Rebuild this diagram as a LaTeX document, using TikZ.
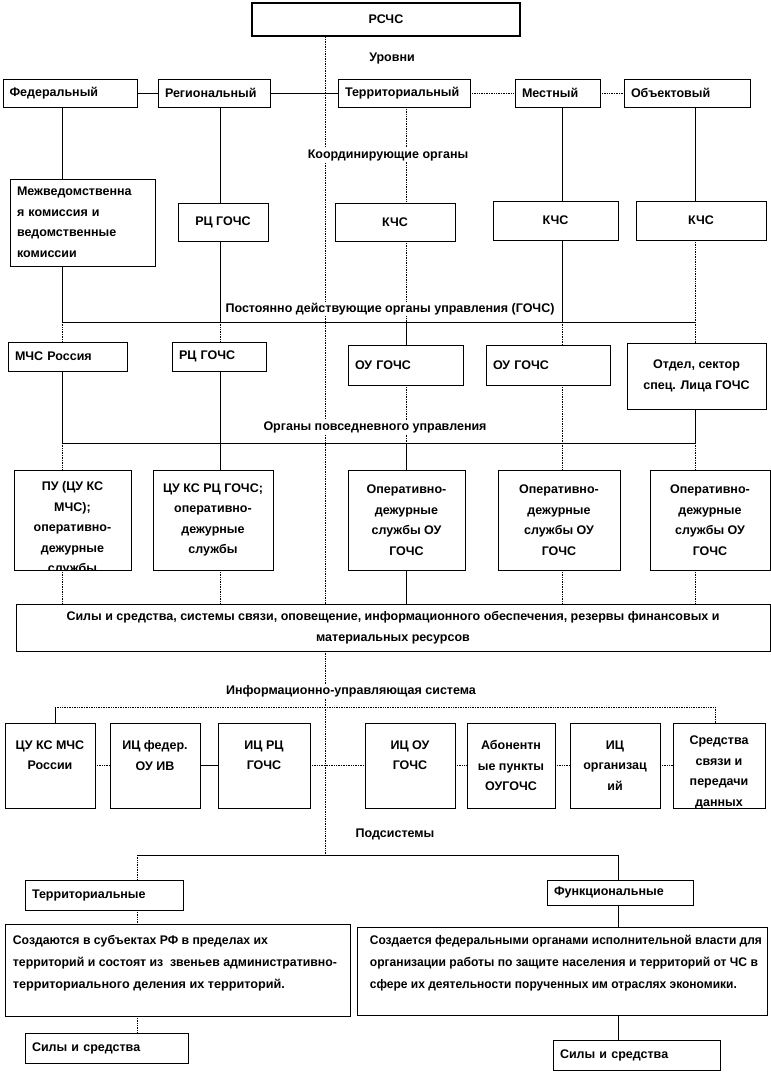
\documentclass[tikz,border=0pt]{standalone}
\usepackage{fontspec}
\usepackage{graphicx}
\setmainfont{Liberation Sans}
\usetikzlibrary{calc}
% box macro: [node options]{name}{x1}{y1}{x2}{y2}{text}
\newcommand\mybox[7][]{%
  \node[box,minimum width={(#5-#3)*1pt},minimum height={(#6-#4)*1pt},#1] (#2) at ({(#3+#5)/2},{(#4+#6)/2}) {#7};}
\newcommand\fitline[2]{\resizebox{#1pt}{\height}{#2}}
\begin{document}
\begin{tikzpicture}[x=1pt,y=-1pt,
  every node/.style={font=\fontsize{12.5}{20.5}\selectfont\bfseries},
  box/.style={draw, fill=white, inner sep=0pt, line width=0.6pt, align=center},
  lbl/.style={fill=white, inner xsep=3pt, inner ysep=1pt},
  txt/.style={inner sep=0pt, align=left, anchor=north west, font=\fontsize{12.5}{22}\selectfont\bfseries},
  ln/.style={line width=0.6pt},
  dl/.style={line width=0.7pt, densely dotted},
]
\useasboundingbox (0,0) rectangle (771,1074);
\coordinate (cm) at (325,0);
\coordinate (c1) at (62,0);
\coordinate (c2) at (220,0);
\coordinate (c3) at (406,0);
\coordinate (c4) at (562,0);
\coordinate (c5) at (695,0);
\coordinate (bus1L) at (62,322);
\coordinate (bus1R) at (695,322);
\coordinate (bus2L) at (62,443);
\coordinate (bus2R) at (695,443);
\coordinate (bus3L) at (55,707);
\coordinate (bus3R) at (715,707);
\coordinate (bus4L) at (137,855);
\coordinate (bus4R) at (618,855);
\coordinate (bus4C) at (325,855);

% top
\mybox[line width=2.5pt]{rschs}{252}{3}{520}{36}{РСЧС}
% central dotted spine
\draw[dl] (rschs.south -| cm) -- (bus4C);

% level row
\mybox[align=left,text width=121pt]{fed}{3}{79}{137}{107}{Федеральный}
\mybox[align=left,text width=98pt]{reg}{158}{79}{270}{107}{Региональный}
\mybox[align=left,text width=118pt]{terr}{338}{79}{470}{107}{Территориальный}
\mybox[align=left,text width=71pt]{mest}{515}{79}{600}{107}{Местный}
\mybox[align=left,text width=112pt]{obj}{624}{79}{750}{107}{Объектовый}
\draw[ln] (fed) -- (reg);
\draw[ln] (reg) -- (terr);
\draw[dl] (terr) -- (mest);
\draw[dl] (mest) -- (obj);

% coordinating bodies
\mybox[align=left,text width=131pt]{mvk}{10}{179}{155}{266}{Межведомственна\\я комиссия и\\ведомственные\\комиссии}
\mybox{rc1}{178}{203}{268}{241}{РЦ ГОЧС}
\mybox{kchs1}{335}{203}{455}{241}{КЧС}
\mybox{kchs2}{493}{201}{618}{240}{КЧС}
\mybox{kchs3}{636}{201}{766}{240}{КЧС}
\draw[ln] (fed.south -| c1) -- (mvk.north -| c1);
\draw[ln] (reg.south -| c2) -- (rc1.north -| c2);
\draw[dl] (terr.south -| c3) -- (kchs1.north -| c3);
\draw[ln] (mest.south -| c4) -- (kchs2.north -| c4);
\draw[ln] (obj.south -| c5) -- (kchs3.north -| c5);

% permanent bodies
\mybox[align=left,text width=105pt]{mchs}{8}{342}{127}{371}{МЧС Россия}
\mybox[align=left,text width=80pt]{rc2}{172}{342}{266}{371}{РЦ ГОЧС}
\mybox[align=left,text width=101pt]{ou1}{348}{345}{463}{385}{ОУ ГОЧС}
\mybox[align=left,text width=110pt]{ou2}{486}{345}{610}{385}{ОУ ГОЧС}
\mybox{otd}{627}{343}{766}{409}{Отдел, сектор\\спец. Лица ГОЧС}
\draw[ln] (mvk.south -| c1) -- (bus1L);
\draw[ln] (rc1.south -| c2) -- (c2 |- bus1L);
\draw[dl] (kchs1.south -| c3) -- (c3 |- bus1L);
\draw[ln] (kchs2.south -| c4) -- (c4 |- bus1L);
\draw[dl] (kchs3.south -| c5) -- (bus1R);
\draw[ln] (bus1L) -- (bus1R);
\draw[dl] (bus1L) -- (mchs.north -| c1);
\draw[dl] (c2 |- bus1L) -- (rc2.north -| c2);
\draw[ln] (c3 |- bus1L) -- (ou1.north -| c3);
\draw[dl] (c4 |- bus1L) -- (ou2.north -| c4);
\draw[dl] (bus1R) -- (otd.north -| c5);

% daily management bodies
\mybox{pu}{14}{470}{131}{570}{}
\begin{scope}
\clip (pu.south west) rectangle (pu.north east);
\node[anchor=north,align=center,inner sep=0pt] (pu-t) at ([yshift=-12pt]pu.north) {ПУ (ЦУ КС\\МЧС);\\оперативно-\\дежурные\\службы};
\end{scope}
\mybox{cu}{153}{470}{273}{570}{ЦУ КС РЦ ГОЧС;\\оперативно-\\дежурные\\службы}
\mybox{op1}{348}{470}{465}{570}{Оперативно-\\дежурные\\службы ОУ\\ГОЧС}
\mybox{op2}{498}{470}{620}{570}{Оперативно-\\дежурные\\службы ОУ\\ГОЧС}
\mybox{op3}{650}{470}{770}{570}{Оперативно-\\дежурные\\службы ОУ\\ГОЧС}
\draw[ln] (mchs.south -| c1) -- (bus2L);
\draw[ln] (rc2.south -| c2) -- (c2 |- bus2L);
\draw[dl] (ou1.south -| c3) -- (c3 |- bus2L);
\draw[dl] (ou2.south -| c4) -- (c4 |- bus2L);
\draw[ln] (otd.south -| c5) -- (bus2R);
\draw[ln] (bus2L) -- (bus2R);
\draw[dl] (bus2L) -- (pu.north -| c1);
\draw[ln] (c2 |- bus2L) -- (cu.north -| c2);
\draw[ln] (c3 |- bus2L) -- (op1.north -| c3);
\draw[dl] (c4 |- bus2L) -- (op2.north -| c4);
\draw[dl] (bus2R) -- (op3.north -| c5);

% forces and means
\mybox{big}{16}{604}{770}{651}{Силы и средства, системы связи, оповещение, информационного обеспечения, резервы финансовых и\\материальных ресурсов}
\draw[dl] (pu.south -| c1) -- (big.north -| c1);
\draw[dl] (cu.south -| c2) -- (big.north -| c2);
\draw[ln] (op1.south -| c3) -- (big.north -| c3);
\draw[dl] (op2.south -| c4) -- (big.north -| c4);
\draw[dl] (op3.south -| c5) -- (big.north -| c5);

% information system
\mybox{b1}{5}{723}{95}{808}{ЦУ КС МЧС\\России\\\mbox{}}
\mybox{b2}{110}{723}{200}{808}{ИЦ федер.\\ОУ ИВ\\\mbox{}}
\mybox{b3}{218}{723}{310}{808}{ИЦ РЦ\\ГОЧС\\\mbox{}}
\mybox{b4}{365}{723}{455}{808}{ИЦ ОУ\\ГОЧС\\\mbox{}}
\mybox{b5}{467}{723}{555}{808}{Абонентн\\ые пункты\\ОУГОЧС}
\mybox{b6}{570}{723}{660}{808}{ИЦ\\организац\\ий}
\mybox{b7}{673}{723}{765}{808}{}
\begin{scope}
\clip (b7.south west) rectangle (b7.north east);
\node[anchor=north,align=center,inner sep=0pt] (b7-t) at ([yshift=-13pt]b7.north) {Средства\\связи и\\передачи\\данных};
\end{scope}
\draw[dl] (bus3L) -- (bus3R);
\draw[ln] (bus3L) -- (b1.north -| bus3L);
\draw[dl] (bus3R) -- (b7.north -| bus3R);
\draw[dl] (b1) -- (b2);
\draw[ln] (b2) -- (b3);
\draw[dl] (b3) -- (b4);
\draw[dl] (b4) -- (b5);
\draw[dl] (b5) -- (b6);
\draw[dl] (b6) -- (b7);

% subsystems
\mybox[align=left,text width=144pt]{terr2}{25}{880}{183}{910}{Территориальные}
\mybox[align=left,text width=132pt]{func}{547}{880}{693}{905}{Функциональные}
\mybox{txtL}{5}{924}{350}{1016}{}
\node[txt] (txtL-t) at ([xshift=8pt,yshift=-11pt]txtL.north west) {\fitline{255}{Создаются в субъектах РФ в пределах их}\\\fitline{324}{территорий и состоят из\ \ звеньев административно-}\\\fitline{272}{территориального деления их территорий.}};
\mybox{txtR}{357}{927}{767}{1015}{}
\node[txt] (txtR-t) at ([xshift=13pt,yshift=-8pt]txtR.north west) {\fitline{392}{Создается федеральными органами исполнительной власти для}\\\fitline{388}{организации работы по защите населения и территорий от ЧС в}\\\fitline{367}{сфере их деятельности порученных им отраслях экономики.}};
\mybox[align=left,text width=149pt]{sila1}{25}{1033}{188}{1063}{Силы и средства}
\mybox[align=left,text width=153pt]{sila2}{553}{1040}{720}{1070}{Силы и средства}
\draw[ln] (bus4L) -- (bus4R);
\draw[dl] (bus4L) -- (terr2.north -| bus4L);
\draw[ln] (bus4R) -- (func.north -| bus4R);
\draw[dl] (terr2.south -| bus4L) -- (txtL.north -| bus4L);
\draw[ln] (func.south -| bus4R) -- (txtR.north -| bus4R);
\draw[dl] (txtL.south -| bus4L) -- (sila1.north -| bus4L);
\draw[ln] (txtR.south -| bus4R) -- (sila2.north -| bus4R);

% section labels
\node[lbl] (l1) at (392,58) {Уровни};
\node[lbl] (l2) at (388,155) {Координирующие органы};
\node[lbl] (l3) at (390,309) {Постоянно действующие органы управления (ГОЧС)};
\node[lbl] (l4) at (375,427) {Органы повседневного управления};
\node[lbl] (l5) at (351,691) {Информационно-управляющая система};
\node[lbl] (l6) at (395,834) {Подсистемы};
\end{tikzpicture}
\end{document}
